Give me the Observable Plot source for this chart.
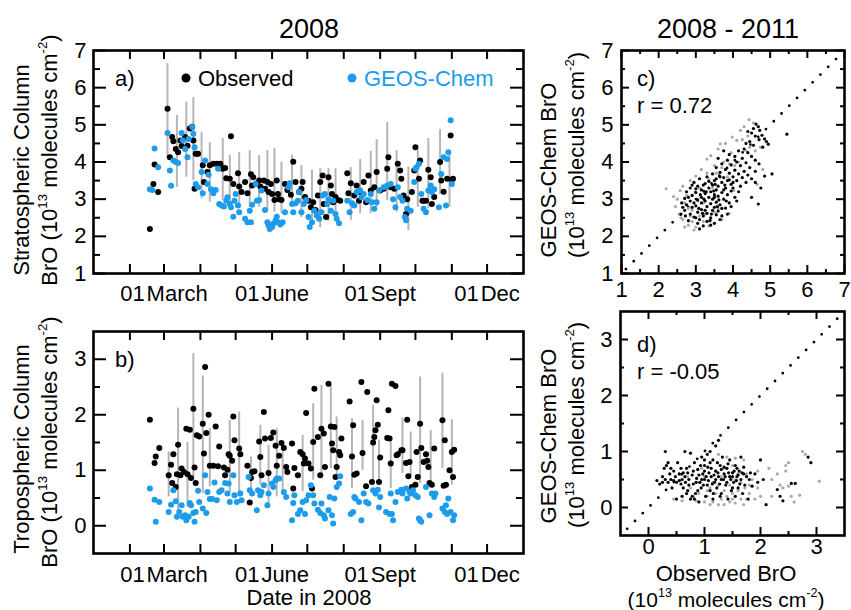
<!DOCTYPE html>
<html><head><meta charset="utf-8">
<script src="https://cdn.jsdelivr.net/npm/d3@7"></script>
<script src="https://cdn.jsdelivr.net/npm/@observablehq/plot@0.6"></script>
<style>
html,body{margin:0;padding:0;background:#fff;}
#fig{position:relative;width:851px;height:610px;font-family:"Liberation Sans",Arial,Helvetica,sans-serif;color:#000;overflow:hidden;background:#fff;}
#fig svg{position:absolute;background:transparent;}
.t{position:absolute;white-space:nowrap;font-size:22px;line-height:1;}
.rot{transform:translate(-50%,-50%) rotate(-90deg);}
.ctr{transform:translate(-50%,-50%);}
.lm{transform:translate(0,-50%);}
.dot{position:absolute;width:9px;height:9px;border-radius:50%;transform:translate(-50%,-50%);}
sup{font-size:0.6em;vertical-align:0.75em;line-height:0;}
</style></head><body><div id="fig"></div>
<script>
// ---------------- DATA ----------------
// Panel a: stratospheric column, 2008  [day of year, value (1e13 molec/cm2)]
const stratObs = [[49,2.2],[52,3.41],[53,3.93],[56,3.19],[64,5.43],[66,4.13],[68,4.67],[69,4.56],[71,4.35],[73,4.26],[75,4.58],[76,4.43],[79,4.67],[81,4.44],[83,4.9],[85,4.95],[86,4.58],[87,3.28],[88,4.22],[89,4.22],[90,4.22],[94,3.91],[95,3.46],[98,3.73],[100,3.91],[103,3.95],[106,3.95],[109,3.95],[111,3.82],[113,3.84],[114,3.56],[117,3.55],[118,4.69],[120,3.41],[124,3.7],[125,3.34],[127,3.19],[130,3.46],[132,3.16],[135,3.67],[136,3.37],[137,3.59],[140,3.43],[142,3.5],[143,3.34],[146,3.5],[147,3.28],[149,3.46],[150,3.19],[152,3.41],[153,3.14],[155,2.98],[157,3.5],[158,3.14],[159,3.0],[161,2.98],[164,3.41],[166,3.25],[169,3.12],[171,4.01],[173,3.46],[176,3.19],[178,3.28],[179,3.46],[181,3.06],[184,2.96],[186,2.78],[188,2.92],[190,2.71],[192,3.1],[194,3.46],[196,3.64],[197,2.87],[199,2.52],[201,3.59],[203,3.37],[204,3.14],[205,2.92],[207,3.06],[209,2.98],[211,2.96],[217,3.7],[218,3.16],[220,3.43],[223,3.1],[225,3.37],[227,2.96],[228,3.19],[231,3.46],[233,2.92],[235,3.64],[237,3.23],[240,3.32],[242,3.73],[245,3.23],[248,3.28],[251,3.82],[252,4.13],[254,3.32],[257,3.28],[260,3.95],[262,3.77],[263,3.55],[265,3.1],[267,2.6],[268,3.0],[269,2.69],[272,3.19],[274,3.77],[275,4.4],[278,3.55],[279,4.04],[281,2.96],[282,2.96],[284,2.96],[286,3.79],[288,3.59],[289,2.87],[291,3.06],[296,4.0],[297,3.5],[299,3.2],[302,3.55],[305,4.71],[306,3.52],[307,3.55]];
const stratMod = [[49,3.27],[51,3.25],[53,4.36],[56,3.86],[64,4.78],[66,3.77],[67,3.36],[69,4.04],[71,4.0],[73,3.97],[76,4.78],[77,4.58],[79,4.35],[81,4.13],[82,4.62],[85,4.94],[86,4.76],[87,4.4],[88,3.41],[90,3.32],[93,3.73],[94,3.16],[96,4.04],[98,3.41],[99,3.66],[101,3.27],[103,3.16],[105,3.25],[107,3.82],[108,2.87],[110,2.83],[112,2.8],[114,2.96],[115,3.05],[117,2.87],[118,2.78],[120,2.53],[121,2.96],[122,3.14],[124,2.83],[125,2.65],[130,2.47],[132,2.38],[134,2.69],[135,2.38],[136,2.85],[139,3.41],[140,2.96],[142,2.98],[144,3.23],[147,2.71],[149,2.38],[150,2.29],[151,2.2],[153,2.25],[154,2.34],[156,2.43],[157,2.53],[158,2.38],[160,2.32],[162,2.38],[164,2.65],[167,3.32],[168,3.43],[170,2.87],[171,2.65],[173,2.89],[175,2.96],[176,3.19],[178,2.65],[180,2.87],[182,2.98],[184,2.52],[185,2.25],[187,2.38],[189,2.69],[191,2.56],[193,2.47],[195,2.65],[196,3.1],[198,3.14],[200,2.87],[201,3.0],[203,2.69],[205,2.96],[207,2.6],[208,2.47],[210,2.35],[217,2.96],[219,2.65],[221,2.89],[223,2.83],[225,3.19],[228,3.23],[229,3.05],[231,3.14],[234,2.98],[237,3.14],[238,2.92],[240,2.74],[242,2.92],[244,3.23],[248,3.32],[251,3.37],[254,3.41],[256,3.0],[258,2.78],[260,3.32],[262,3.06],[264,2.96],[266,2.52],[267,2.43],[268,2.74],[271,2.69],[274,3.46],[275,3.82],[276,3.86],[278,3.95],[280,3.14],[282,2.74],[284,2.65],[286,3.23],[288,3.37],[289,3.19],[291,3.27],[295,2.78],[297,3.68],[299,4.13],[301,2.83],[302,4.08],[303,4.26],[305,5.12],[306,3.41]];
// weekly variability bars [day, low, high]
const stratBars = [[64,4.1,6.65],[72,3.32,5.25],[80,3.59,5.61],[86,3.5,5.73],[93,3.02,4.8],[100,2.92,4.53],[111,2.96,4.63],[117,2.88,4.18],[125,2.75,4.25],[134,2.78,4.31],[142,2.78,4.17],[149,2.7,4.31],[155,2.65,4.36],[161,2.61,4.0],[170,2.78,4.18],[178,2.5,3.91],[187,2.35,3.78],[194,2.23,3.82],[201,2.4,3.82],[207,2.65,3.82],[220,2.43,3.85],[228,2.61,4.07],[237,2.61,4.29],[242,2.78,4.6],[251,2.96,5.07],[259,2.65,4.31],[269,2.15,3.87],[277,2.78,4.31],[286,2.74,4.63],[296,3.13,4.88],[304,2.78,4.31]];

// Panel b: tropospheric column, 2008
const tropObs = [[49,1.91],[53,1.13],[54,1.25],[57,1.4],[65,0.91],[67,1.1],[68,0.77],[69,1.29],[71,0.7],[72,0.93],[73,1.46],[75,0.91],[76,1.03],[78,0.97],[80,1.75],[81,0.93],[83,1.73],[84,0.86],[86,2.11],[87,1.05],[88,0.77],[89,1.63],[91,1.61],[94,1.84],[95,1.3],[96,2.86],[97,1.67],[99,2.0],[100,1.08],[103,1.08],[105,1.79],[107,1.07],[108,1.43],[112,1.05],[113,0.91],[115,1.01],[116,1.29],[117,1.26],[119,1.17],[120,1.97],[121,1.54],[125,1.39],[126,1.29],[132,1.08],[134,0.42],[135,0.86],[136,0.97],[138,0.98],[142,1.52],[143,1.24],[144,0.91],[146,2.05],[147,1.57],[150,0.95],[152,1.58],[154,1.68],[156,1.44],[157,1.08],[159,1.26],[161,1.49],[163,1.4],[165,1.06],[166,0.97],[170,1.48],[171,0.67],[172,1.04],[175,0.91],[177,1.33],[179,1.29],[180,1.12],[181,1.21],[182,2.03],[184,1.12],[186,1.03],[187,0.67],[188,1.51],[189,2.47],[192,1.6],[194,0.91],[195,1.75],[197,1.66],[198,1.06],[201,2.56],[203,1.79],[204,1.48],[205,1.36],[206,1.78],[207,0.88],[208,1.06],[210,1.33],[211,1.27],[212,1.57],[219,2.24],[221,1.25],[222,1.81],[223,0.92],[225,0.94],[229,2.59],[230,1.31],[233,0.71],[234,2.41],[238,0.79],[239,1.5],[240,1.6],[241,1.72],[242,2.26],[243,1.82],[244,0.79],[245,1.23],[251,1.58],[252,2.08],[253,1.57],[254,1.12],[255,2.56],[258,2.52],[259,1.27],[260,1.29],[263,1.36],[264,1.36],[267,1.13],[268,1.91],[269,0.89],[270,1.15],[272,0.7],[275,0.74],[276,1.33],[277,0.88],[279,1.84],[280,1.4],[282,1.15],[284,1.29],[285,1.17],[286,1.06],[287,0.77],[289,0.74],[291,1.39],[298,1.9],[299,0.72],[300,1.54],[301,0.74],[304,1.0],[306,1.33],[307,0.88],[308,1.37]];
const tropMod = [[49,0.67],[53,0.47],[54,0.07],[57,0.43],[65,0.25],[67,0.38],[69,0.64],[71,0.44],[72,0.16],[74,0.25],[76,0.37],[77,0.16],[79,0.19],[80,0.1],[82,0.16],[83,0.41],[84,0.37],[86,0.23],[87,0.07],[88,0.25],[90,0.63],[91,0.43],[94,0.31],[96,0.91],[97,0.23],[98,0.61],[100,0.48],[102,0.48],[104,0.78],[106,0.46],[108,0.61],[110,0.64],[113,0.77],[115,0.58],[116,0.76],[117,0.43],[120,0.91],[121,0.55],[123,0.43],[126,0.58],[127,0.46],[133,0.88],[134,0.64],[136,0.58],[140,0.28],[141,0.64],[143,0.55],[144,0.61],[146,0.73],[149,0.37],[150,0.58],[153,0.76],[154,0.7],[156,0.82],[157,0.85],[159,0.85],[163,0.61],[165,0.52],[170,0.1],[171,0.41],[172,0.55],[175,0.21],[177,0.28],[179,0.43],[181,0.21],[182,0.46],[184,0.55],[186,0.73],[188,0.55],[189,0.4],[192,0.29],[194,0.23],[195,0.4],[197,0.19],[198,0.13],[201,0.28],[202,0.52],[204,0.19],[205,0.04],[206,0.49],[208,0.7],[210,0.76],[211,0.89],[220,0.21],[222,0.25],[223,0.52],[224,0.49],[227,0.43],[229,0.1],[231,0.58],[233,0.43],[235,0.4],[239,0.64],[241,0.58],[243,0.65],[244,0.33],[245,0.52],[250,0.25],[253,0.21],[254,0.58],[255,0.21],[256,0.1],[258,0.43],[260,0.61],[263,0.65],[264,0.58],[267,0.67],[268,0.49],[270,0.61],[271,0.58],[273,0.64],[275,0.55],[277,0.52],[278,0.13],[279,0.1],[280,0.07],[284,0.7],[287,0.19],[289,0.58],[291,0.52],[292,0.58],[298,0.31],[300,0.25],[301,0.37],[302,0.21],[303,0.49],[305,0.25],[307,0.1],[308,0.19]];
const tropBars = [[65,0.52,1.33],[73,0.21,2.12],[81,0.33,1.5],[86,0.81,3.1],[94,0.58,2.7],[100,0.7,1.75],[117,0.6,1.9],[125,0.52,2.05],[135,0.6,1.24],[143,0.73,1.81],[150,0.31,1.45],[157,0.52,1.75],[162,0.55,1.33],[179,0.61,1.63],[188,0.82,2.2],[195,0.88,2.53],[203,1.03,2.53],[208,0.9,1.96],[221,0.67,1.93],[230,1.0,1.9],[239,0.76,2.17],[244,0.82,1.54],[254,0.67,1.51],[264,0.94,1.94],[271,0.9,1.69],[279,0.76,2.68],[288,0.76,1.72],[298,1.03,2.75],[306,0.73,1.91]];

// Panel c: stratospheric, observed vs GEOS-Chem, 2008-2011 [obs, model]
const stratScatterBlack = [[4.62,5.02],[4.68,4.95],[4.55,4.9],[4.72,4.85],[4.4,4.82],[4.5,4.78],[4.78,4.72],[4.6,4.7],[4.85,4.62],[4.7,4.6],[4.9,4.55],[4.45,4.55],[4.95,4.48],[4.55,4.45],[4.35,4.5],[4.8,4.4],[5.45,4.75],[5.05,3.68],[4.68,2.87],[4.85,3.62],[4.7,3.95],[4.75,3.3],[4.5,3.05],[4.6,3.45],[4.3,4.35],[4.15,4.3],[4.4,4.25],[3.75,4.3],[3.9,4.2],[4.05,4.15],[4.5,4.15],[4.25,4.1],[3.6,4.1],[4.6,4.05],[3.85,4.05],[4.1,4.0],[4.35,3.98],[3.7,3.95],[3.95,3.92],[4.2,3.9],[4.45,3.85],[3.55,3.85],[3.8,3.8],[4.05,3.78],[4.3,3.75],[4.6,3.75],[3.65,3.72],[3.9,3.7],[4.15,3.68],[4.4,3.65],[3.45,3.68],[4.0,3.6],[4.25,3.58],[3.75,3.58],[4.5,3.55],[3.55,3.55],[4.1,3.5],[3.85,3.5],[4.35,3.45],[3.3,3.6],[3.1,3.55],[3.5,3.5],[3.7,3.45],[2.95,3.45],[3.25,3.42],[3.95,3.4],[3.45,3.38],[3.6,3.35],[3.05,3.35],[3.35,3.3],[3.8,3.3],[2.85,3.3],[3.55,3.25],[3.15,3.25],[3.95,3.22],[3.4,3.2],[2.75,3.2],[3.7,3.18],[3.0,3.18],[3.25,3.15],[3.5,3.12],[3.85,3.12],[2.9,3.1],[3.6,3.08],[3.15,3.05],[3.35,3.05],[4.05,3.05],[2.7,3.02],[3.45,3.0],[3.75,3.0],[3.05,2.98],[3.25,2.95],[2.85,2.95],[3.55,2.92],[3.9,2.9],[3.15,2.9],[3.4,2.88],[2.75,2.85],[3.65,2.85],[3.0,2.82],[3.3,2.8],[3.5,2.78],[2.9,2.78],[3.8,2.76],[3.15,2.72],[2.7,2.7],[3.45,2.7],[3.6,2.68],[3.05,2.65],[3.3,2.62],[2.85,2.6],[3.55,2.58],[3.2,2.55],[2.95,2.52],[3.4,2.5],[3.1,2.45],[3.65,2.45],[2.8,2.42],[3.3,2.4],[3.05,2.35],[3.5,2.35],[3.2,2.28],[3.1,2.2],[3.4,2.3],[2.65,2.78],[2.6,2.6],[2.62,2.9],[3.35,3.48],[3.2,3.38],[3.0,3.28],[3.65,3.6],[3.9,3.52],[4.0,3.3],[4.15,3.2],[4.1,2.95],[3.85,2.6],[3.7,2.55],[3.95,2.8],[3.75,3.25],[3.5,3.05],[3.25,2.7],[2.95,2.9],[3.12,3.12],[3.42,2.6],[3.58,2.8],[2.8,3.05],[2.9,3.38],[3.08,2.75],[3.28,3.2],[3.62,2.98],[3.48,3.22],[3.18,2.62],[2.72,2.55],[3.38,2.42],[3.0,2.5],[3.22,3.0],[3.52,3.4],[3.78,3.38],[3.82,2.95],[4.2,3.35],[4.0,3.45],[3.7,2.75]];
const stratScatterGray = [[2.2,3.28],[2.4,3.07],[2.58,3.23],[2.45,2.8],[2.5,3.0],[2.6,2.5],[2.7,2.25],[2.8,2.3],[2.95,2.17],[2.9,2.4],[3.0,2.25],[3.2,2.4],[3.4,2.45],[3.55,2.6],[3.7,2.45],[3.6,2.75],[3.9,2.62],[2.75,3.1],[2.65,3.35],[2.85,3.5],[3.0,3.62],[3.15,3.8],[3.3,4.08],[3.4,4.17],[3.5,3.9],[3.6,4.35],[3.66,4.49],[3.8,4.5],[3.98,4.67],[4.1,4.58],[4.2,4.85],[4.3,4.95],[4.43,5.14],[4.55,5.05],[4.74,4.4],[4.65,3.4],[4.02,3.23],[4.6,4.3],[4.8,3.8],[3.3,3.7],[3.1,3.3],[2.9,2.7],[3.35,3.55],[3.75,4.0],[3.95,4.25],[4.25,4.6],[4.4,4.7],[3.45,3.3],[3.2,2.9],[2.85,2.55],[2.55,2.6],[3.05,2.95],[3.5,2.65],[3.25,2.6],[2.7,2.9],[2.98,3.2],[4.15,4.0],[4.45,4.4],[3.85,3.6],[3.55,3.7],[2.8,2.75],[3.1,2.55],[3.35,2.28],[2.65,2.45],[4.05,3.9],[3.7,3.85],[4.35,4.3],[3.9,3.95]];
const stratR = "r = 0.72";

// Panel d: tropospheric, observed vs GEOS-Chem, 2008-2011
const tropScatterBlack = [[0.15,0.48],[0.2,0.42],[0.25,0.55],[0.3,1.0],[0.28,0.7],[0.32,0.75],[0.35,0.45],[0.38,0.6],[0.4,0.5],[0.42,0.35],[0.45,0.65],[0.48,0.55],[0.5,0.15],[0.52,0.8],[0.55,0.48],[0.58,0.42],[0.6,0.2],[0.62,0.62],[0.65,1.0],[0.66,0.45],[0.68,0.7],[0.7,0.3],[0.72,0.5],[0.75,0.97],[0.75,0.15],[0.78,0.58],[0.8,0.42],[0.82,0.8],[0.84,0.25],[0.86,0.52],[0.88,0.68],[0.9,0.1],[0.92,0.45],[0.94,0.35],[0.95,0.9],[0.97,0.6],[1.0,0.5],[1.0,0.75],[1.02,0.2],[1.05,0.95],[1.05,0.4],[1.08,0.62],[1.1,1.0],[1.1,0.3],[1.12,0.55],[1.15,0.85],[1.15,0.15],[1.18,0.45],[1.2,1.1],[1.2,0.65],[1.22,0.35],[1.25,1.2],[1.25,0.55],[1.28,0.75],[1.3,0.25],[1.3,0.5],[1.32,0.9],[1.35,0.6],[1.38,0.4],[1.4,0.7],[1.42,0.15],[1.45,0.55],[1.45,0.85],[1.48,0.3],[1.5,0.62],[1.52,0.45],[1.55,0.75],[1.55,0.2],[1.58,0.55],[1.6,0.35],[1.62,0.65],[1.65,0.5],[1.65,0.9],[1.68,0.25],[1.7,0.6],[1.72,0.4],[1.75,0.55],[1.78,0.15],[1.8,0.5],[1.85,0.38],[1.9,0.6],[1.95,0.45],[2.0,0.85],[2.05,0.5],[2.1,0.05],[2.3,0.32],[2.35,0.2],[2.4,0.12],[2.55,0.43],[2.62,0.43],[2.85,0.9],[2.9,0.8],[0.55,0.6],[0.6,0.5],[0.65,0.55],[0.7,0.62],[0.72,0.4],[0.8,0.65],[0.85,0.45],[0.9,0.58],[0.95,0.5],[0.98,0.4],[1.0,0.65],[1.03,0.55],[1.07,0.48],[1.12,0.7],[1.14,0.42],[1.17,0.58],[1.2,0.5],[1.24,0.62],[1.27,0.42],[1.3,0.68],[1.34,0.5],[1.37,0.55],[1.4,0.45],[1.43,0.62],[1.47,0.5],[1.5,0.55],[1.53,0.65],[1.57,0.48],[1.6,0.58],[1.63,0.42],[1.67,0.62],[0.45,0.48],[0.5,0.45],[0.58,0.7],[0.62,0.35],[0.68,0.25],[0.78,0.2],[0.82,0.15],[0.88,0.3],[0.93,0.75],[1.0,0.85],[1.06,0.72],[1.1,0.8],[1.16,0.25],[1.23,0.8],[1.28,0.2],[1.35,0.72],[1.42,0.78],[1.5,0.35],[1.58,0.7],[1.7,0.72],[1.82,0.62],[0.35,0.8],[0.4,0.7],[0.25,0.45],[0.3,0.5]];
const tropScatterGray = [[0.45,0.15],[0.55,0.6],[0.6,0.12],[0.7,0.55],[0.8,0.2],[0.85,0.12],[0.9,0.25],[0.95,0.7],[1.0,0.1],[1.05,0.2],[1.1,0.05],[1.1,0.35],[1.15,0.1],[1.2,0.25],[1.25,0.05],[1.25,0.4],[1.3,0.15],[1.35,0.3],[1.35,0.05],[1.4,0.2],[1.45,0.1],[1.45,0.4],[1.5,0.25],[1.55,0.08],[1.55,0.5],[1.6,0.3],[1.65,0.15],[1.65,0.45],[1.7,0.05],[1.72,0.35],[1.75,0.6],[1.8,0.25],[1.85,0.5],[1.9,0.15],[1.95,0.35],[2.0,0.2],[1.25,0.95],[1.4,0.9],[1.5,0.75],[1.55,0.88],[1.7,0.85],[1.2,0.65],[1.0,0.55],[0.9,0.45],[1.3,0.55],[1.6,0.6],[1.8,0.4],[2.2,0.5],[2.2,0.2],[2.3,0.6],[2.35,0.4],[2.4,0.35],[2.45,0.65],[2.45,0.75],[2.5,0.8],[2.5,0.38],[2.55,0.2],[2.6,0.1],[2.7,0.22],[2.75,1.0],[2.8,0.95],[3.05,0.47],[2.15,0.7],[1.95,0.65],[1.05,0.3],[0.75,0.35],[1.15,0.45],[1.35,0.7],[1.5,0.15],[1.75,0.15]];
const tropR = "r = -0.05";

// 1:1 line extents
const diagStrat = [1.12, 6.9];
const diagTrop = [-0.38, 3.42];

// Ticks and tick labels
const monthTicks = [1,2,3,4,5,6,7,8,9,10,11];          // month index (0 = Jan) of tick marks
const monthLabelIdx = [2,5,8,11];
const monthLabelText = ["01\u200AMarch","01\u200AJune","01\u200ASept","01\u200ADec"];
const stratYMajor = [1,2,3,4,5,6,7], stratYMinor = [1.5,2.5,3.5,4.5,5.5,6.5];
const tropYMajor = [0,1,2,3], tropYMinor = [0.5,1.5,2.5];
const stratDomain = [1,7], tropDomain = [-0.5,3.5];
const timeDomain = [Date.UTC(2008,0,1), Date.UTC(2009,0,1)];

// ---------------- DRAWING ----------------
const BLACK="#000", BLUE="#1d9bec", GRAY="#a9a9a9", BAR="#b5b5b5";
const FONT='"Liberation Sans", Arial, Helvetica, sans-serif';
const day = d => new Date(Date.UTC(2008, 0, d));
const month = m => new Date(Date.UTC(2008, m, 1));
const fig = document.getElementById("fig");

function tickMarks(xMaj, xMin, yMaj, yMin, fw, fh, xAcc, len) {
  const sw = 2, m = [];
  for (const [arr, l] of [[xMaj, len.xMaj], [xMin, len.min]]) {
    if (!arr.length) continue;
    m.push(Plot.tickX(arr, {x: xAcc, insetTop: fh - l, stroke: BLACK, strokeWidth: sw}));
    m.push(Plot.tickX(arr, {x: xAcc, insetBottom: fh - l, stroke: BLACK, strokeWidth: sw}));
  }
  for (const [arr, l] of [[yMaj, len.maj], [yMin, len.min]]) {
    if (!arr.length) continue;
    m.push(Plot.tickY(arr, {y: d => d, insetRight: fw - l, stroke: BLACK, strokeWidth: sw}));
    m.push(Plot.tickY(arr, {y: d => d, insetLeft: fw - l, stroke: BLACK, strokeWidth: sw}));
  }
  return m;
}

function place(svg, left, top) {
  svg.style.left = left + "px"; svg.style.top = top + "px";
  svg.style.maxWidth = "none"; svg.style.overflow = "visible";
  fig.appendChild(svg);
}

function timePanel({left, top, width, height, ml, mr, mt, mb, domain, yMaj, yMin, yLabels, obs, mod, bars, xPad}) {
  const fw = width - ml - mr, fh = height - mt - mb;
  const labelMap = new Map(monthLabelIdx.map((m, i) => [+month(m), monthLabelText[i]]));
  const svg = Plot.plot({
    width, height, marginLeft: ml, marginRight: mr, marginTop: mt, marginBottom: mb,
    style: {fontFamily: FONT, fontSize: "22px", background: "transparent", color: BLACK},
    x: {type: "utc", domain: timeDomain.map(t => new Date(t))},
    y: {domain},
    marks: [
      Plot.ruleX(bars, {x: d => day(d[0]), y1: d => d[1], y2: d => d[2], stroke: BAR, strokeWidth: 2}),
      Plot.dot(obs, {x: d => day(d[0]), y: d => d[1], r: 3, fill: BLACK}),
      Plot.dot(mod, {x: d => day(d[0]), y: d => d[1], r: 3, fill: BLUE}),
      ...tickMarks(monthTicks.map(month), [], yMaj, yMin, fw, fh, d => d, {xMaj: 9, maj: 13, min: 7}),
      Plot.frame({stroke: BLACK, strokeWidth: 2.6}),
      Plot.axisX(monthLabelIdx.map(month), {anchor: "bottom", tickSize: 0, tickPadding: xPad, fontSize: 22, label: null, tickFormat: d => labelMap.get(+d)}),
      Plot.axisY(yLabels, {anchor: "left", tickSize: 0, tickPadding: 7, fontSize: 22, label: null, tickFormat: d => String(d)})
    ]
  });
  place(svg, left, top);
}

function scatterPanel({left, top, width, height, ml, mr, mt, mb, domain, maj, min, labels, black, gray, diag, xPad}) {
  const fw = width - ml - mr, fh = height - mt - mb;
  const svg = Plot.plot({
    width, height, marginLeft: ml, marginRight: mr, marginTop: mt, marginBottom: mb,
    style: {fontFamily: FONT, fontSize: "22px", background: "transparent", color: BLACK},
    x: {domain}, y: {domain},
    marks: [
      Plot.line(diag, {x: d => d, y: d => d, stroke: BLACK, strokeWidth: 2.8, strokeDasharray: "0 11", strokeLinecap: "round"}),
      Plot.dot(gray, {x: d => d[0], y: d => d[1], r: 1.6, fill: GRAY}),
      Plot.dot(black, {x: d => d[0], y: d => d[1], r: 1.6, fill: BLACK}),
      ...tickMarks(maj, min, maj, min, fw, fh, d => d, {xMaj: 8, maj: 8, min: 4}),
      Plot.frame({stroke: BLACK, strokeWidth: 2.6}),
      Plot.axisX(labels, {anchor: "bottom", tickSize: 0, tickPadding: xPad, fontSize: 22, label: null, tickFormat: d => String(d)}),
      Plot.axisY(labels, {anchor: "left", tickSize: 0, tickPadding: 8, fontSize: 22, label: null, tickFormat: d => String(d)})
    ]
  });
  place(svg, left, top);
}

timePanel({left: 0, top: 0, width: 530, height: 305, ml: 93, mr: 7, mt: 50, mb: 32,
  domain: stratDomain, yMaj: stratYMajor, yMin: stratYMinor, yLabels: stratYMajor,
  obs: stratObs, mod: stratMod, bars: stratBars, xPad: 12});
timePanel({left: 0, top: 305, width: 530, height: 290, ml: 93, mr: 7, mt: 26, mb: 42,
  domain: tropDomain, yMaj: tropYMajor, yMin: tropYMinor, yLabels: tropYMajor,
  obs: tropObs, mod: tropMod, bars: tropBars, xPad: 13});
scatterPanel({left: 530, top: 0, width: 321, height: 305, ml: 91, mr: 7, mt: 50, mb: 32,
  domain: stratDomain, maj: stratYMajor, min: stratYMinor, labels: stratYMajor,
  black: stratScatterBlack, gray: stratScatterGray, diag: diagStrat, xPad: 8});
scatterPanel({left: 530, top: 305, width: 321, height: 290, ml: 90, mr: 7, mt: 6, mb: 60,
  domain: tropDomain, maj: tropYMajor, min: tropYMinor, labels: tropYMajor,
  black: tropScatterBlack, gray: tropScatterGray, diag: diagTrop, xPad: 3});

// ---------------- TEXT ----------------
const unit = 'BrO (10<sup>13</sup> molecules cm<sup>-2</sup>)';
const unitP = '(10<sup>13</sup> molecules cm<sup>-2</sup>)';
const texts = [
  ["2008", "ctr", 309, 29, 27],
  ["2008 - 2011", "ctr", 728, 29, 27],
  ["Stratospheric Column", "rot", 22, 170],
  [unit, "rot", 50, 160],
  ["Tropospheric Column", "rot", 22, 449],
  [unit, "rot", 50, 442],
  ["GEOS-Chem BrO", "rot", 549, 170],
  [unitP, "rot", 577, 155],
  ["GEOS-Chem BrO", "rot", 549, 436],
  [unitP, "rot", 577, 425],
  ["Date in 2008", "ctr", 309, 598],
  ["Observed BrO", "ctr", 726, 574],
  [unitP, "ctr", 726, 599, 21],
  ["a)", "lm", 115, 79],
  ["b)", "lm", 115, 360],
  ["c)", "lm", 637, 79],
  [stratR, "lm", 637, 106],
  ["d)", "lm", 637, 345],
  [tropR, "lm", 637, 372],
  ["Observed", "lm", 198, 79],
  ["GEOS-Chem", "lm", 364, 79, 22, BLUE]
];
for (const [html, cls, x, y, fs, col] of texts) {
  const d = document.createElement("div");
  d.className = "t " + cls;
  d.innerHTML = html;
  d.style.left = x + "px"; d.style.top = y + "px";
  if (fs) d.style.fontSize = fs + "px";
  if (col) d.style.color = col;
  fig.appendChild(d);
}
for (const [x, y, c] of [[186, 78, BLACK], [352, 78, BLUE]]) {
  const d = document.createElement("div");
  d.className = "dot"; d.style.left = x + "px"; d.style.top = y + "px"; d.style.background = c;
  fig.appendChild(d);
}
</script></body></html>
